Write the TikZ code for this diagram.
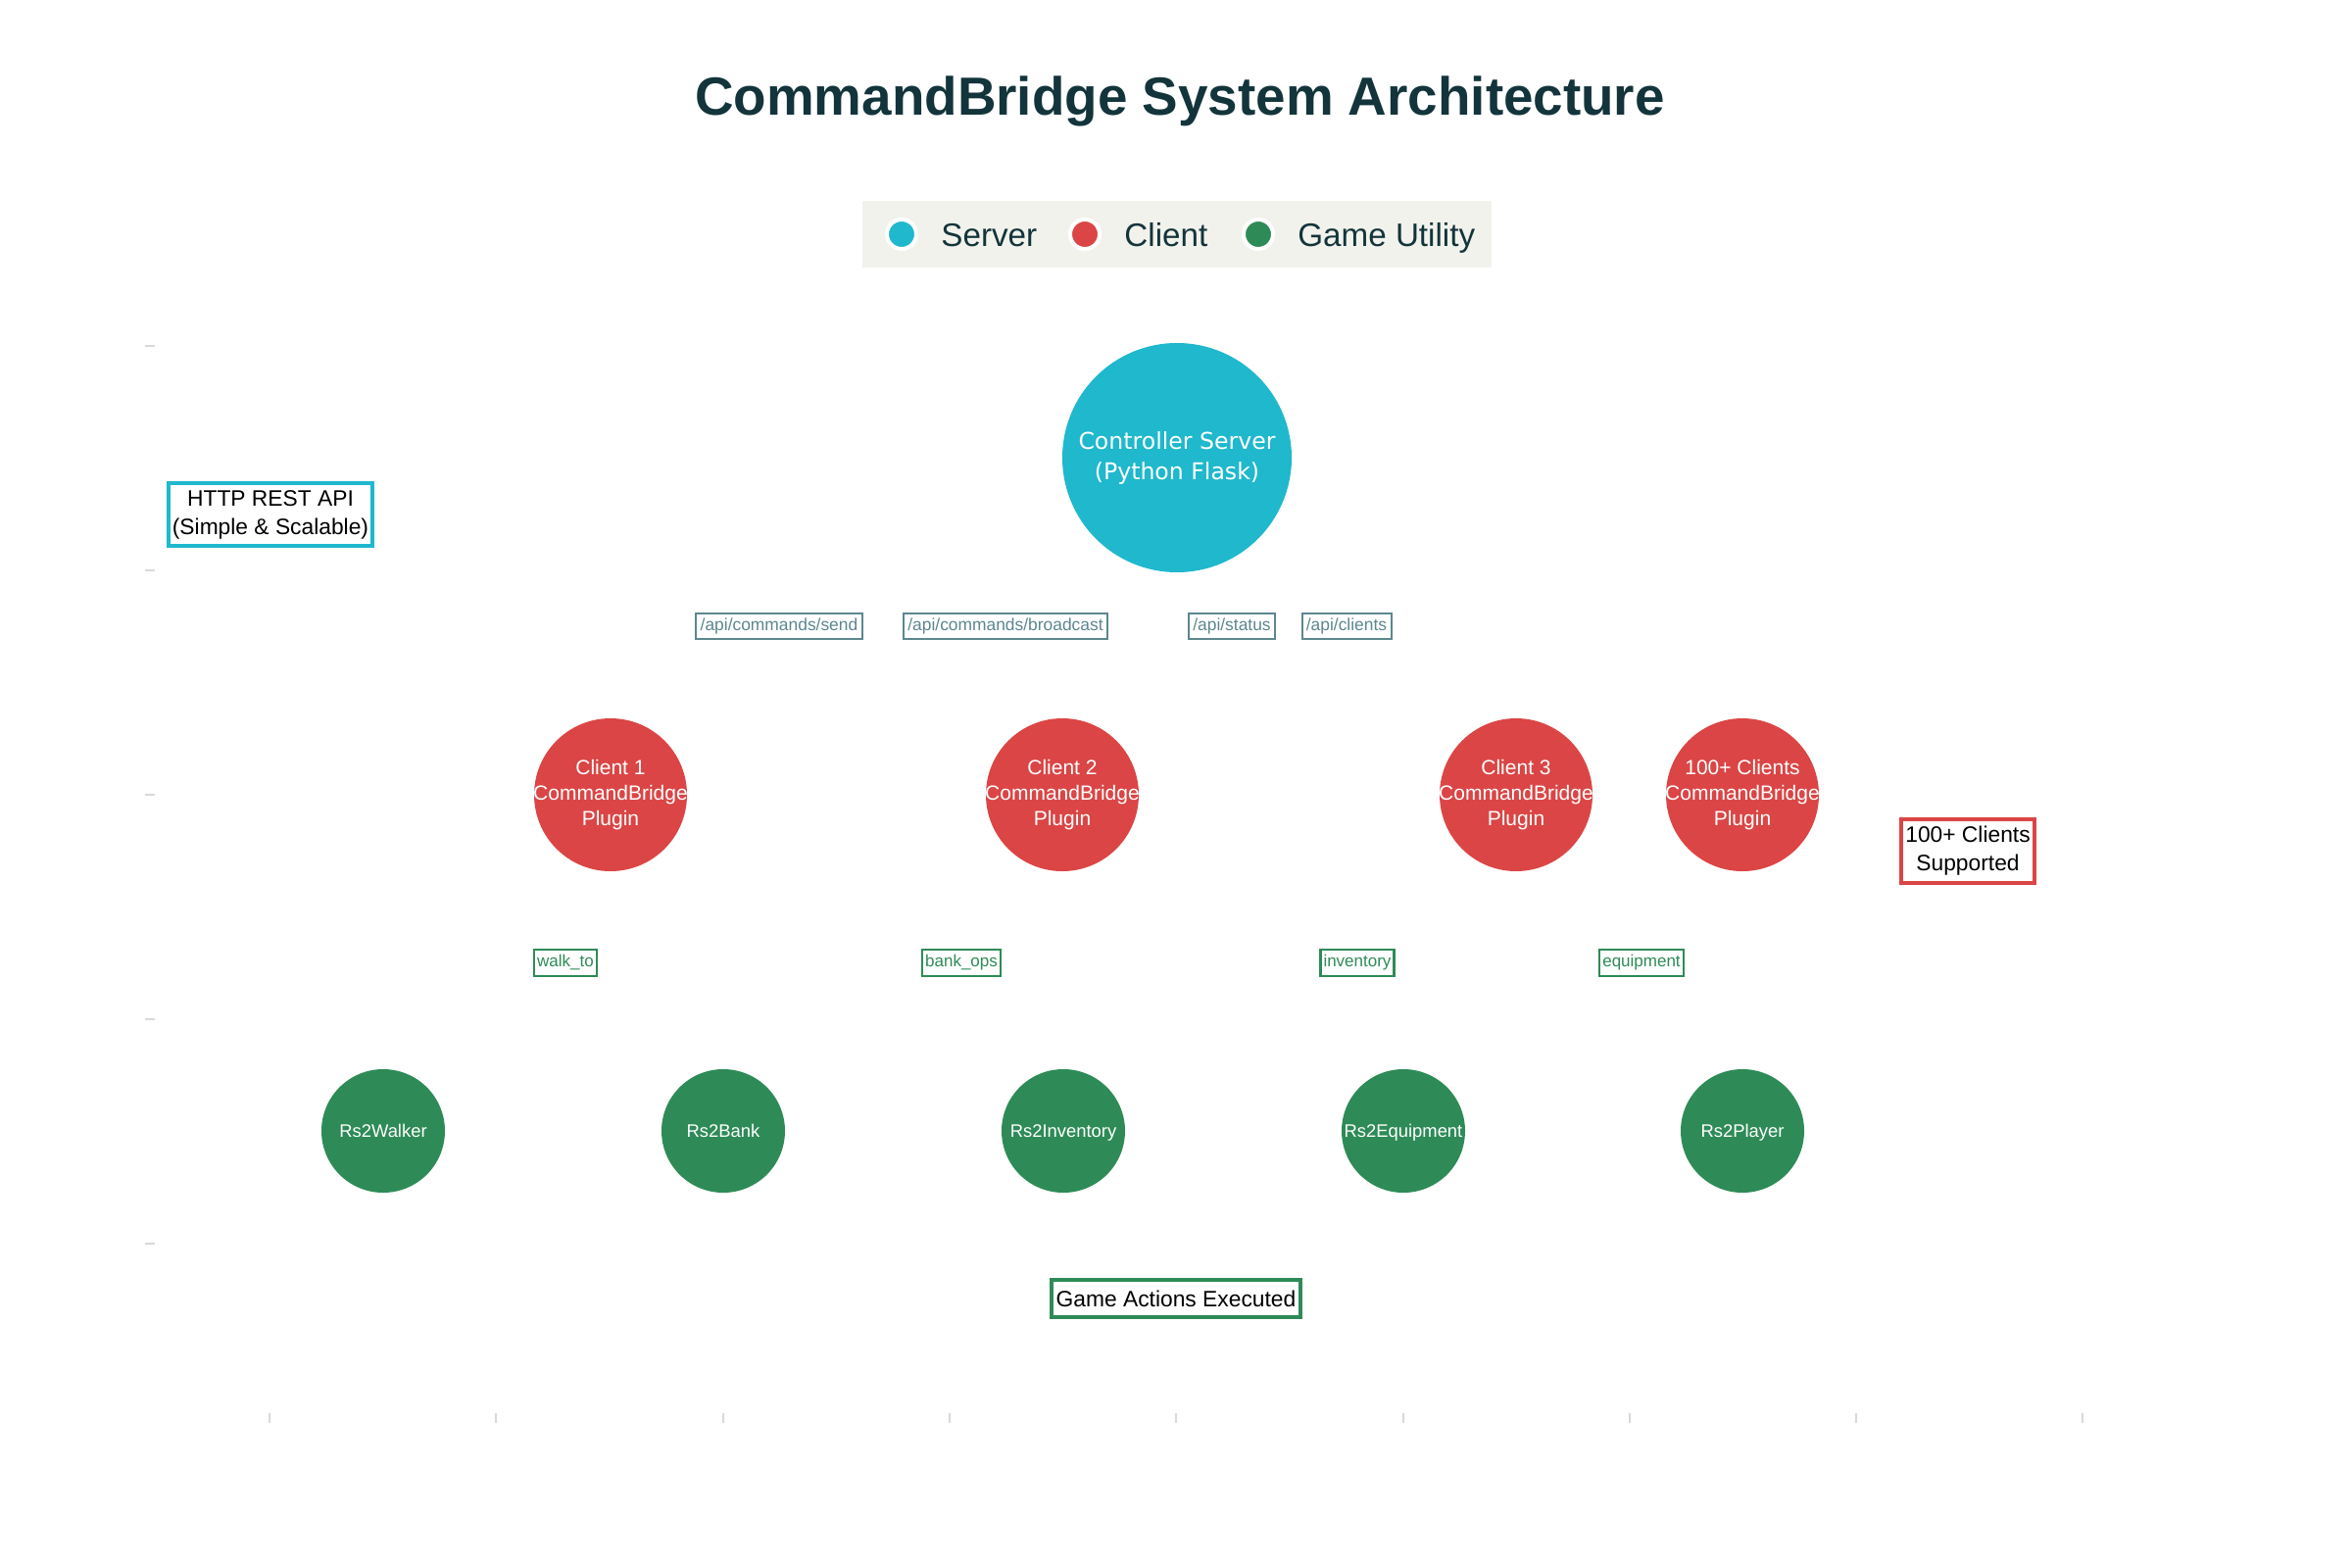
\documentclass[tikz,border=0pt]{standalone}
\usepackage{fontspec}
\setmainfont{Liberation Sans}
\newfontfamily\dejavu{DejaVu Sans}
\definecolor{servercol}{HTML}{1FB8CD}
\definecolor{clientcol}{HTML}{DB4545}
\definecolor{utilcol}{HTML}{2E8B57}
\definecolor{titlecol}{HTML}{13343B}
\definecolor{apicol}{HTML}{5D878F}
\definecolor{legendbg}{HTML}{F2F2EC}
\definecolor{tickcol}{HTML}{D9D9D9}

\begin{document}
\begin{tikzpicture}[x=0.5pt,y=-0.5pt,
  server/.style={circle,fill=servercol,text=white,minimum size=117pt,inner sep=0pt,align=center,font=\dejavu\fontsize{11.8}{15.5}\selectfont},
  client/.style={circle,fill=clientcol,text=white,minimum size=78pt,inner sep=-5pt,align=center,font=\fontsize{10.5}{13}\selectfont},
  utility/.style={circle,fill=utilcol,text=white,minimum size=63pt,inner sep=-3pt,text height=1.6ex,text depth=0.4ex,font=\fontsize{9.2}{11}\selectfont},
  apilabel/.style={draw=apicol,line width=1pt,fill=white,text=apicol,inner xsep=2.2pt,inner ysep=0pt,minimum height=13pt,font=\fontsize{8.7}{10}\selectfont},
  cmdlabel/.style={draw=utilcol,line width=1.3pt,fill=white,text=utilcol,inner xsep=1.6pt,inner ysep=0pt,minimum height=13.5pt,font=\fontsize{8.5}{10}\selectfont},
  notebox/.style={draw,line width=2pt,fill=white,text=black,align=center,inner sep=0pt,font=\fontsize{11.4}{14.5}\selectfont},
  legenddot/.style={circle,draw=white,line width=2pt,minimum size=15pt,inner sep=0pt},
  legendtext/.style={anchor=base west,inner sep=0pt,text=titlecol,font=\fontsize{16.6}{20}\selectfont},
  axistick/.style={tickcol,line width=1pt}]
    \useasboundingbox (0,0) rectangle (2400,1600);
    \node[anchor=base,text=titlecol,font=\bfseries\fontsize{27.4}{32}\selectfont] (title) at (1204,118) {CommandBridge System Architecture};
    \node[fill=legendbg,minimum width=321pt,minimum height=34pt,inner sep=0pt] (legend) at (1201,239) {};
    \node[legenddot,fill=servercol] (dotsrv) at (920,239) {};
    \node[legenddot,fill=clientcol] (dotcl) at (1107,239) {};
    \node[legenddot,fill=utilcol] (dotutil) at (1284,239) {};
    \node[legendtext] (txtsrv) at (960,251) {Server};
    \node[legendtext] (txtcl) at (1147,251) {Client};
    \node[legendtext] (txtutil) at (1324,251) {Game Utility};
    \draw[axistick] (148,353) -- (158,353) (148,582) -- (158,582) (148,811) -- (158,811)
      (148,1040) -- (158,1040) (148,1269) -- (158,1269);
    \draw[axistick] (275,1442) -- (275,1452) (506,1442) -- (506,1452) (738,1442) -- (738,1452)
      (969,1442) -- (969,1452) (1200,1442) -- (1200,1452) (1432,1442) -- (1432,1452)
      (1663,1442) -- (1663,1452) (1894,1442) -- (1894,1452) (2125,1442) -- (2125,1452);
    \node[server] (srv) at (1201,467) {Controller Server\\(Python Flask)};
    \node[client] (cl1) at (623,811) {Client 1\\CommandBridge\\Plugin};
    \node[client] (cl2) at (1084,811) {Client 2\\CommandBridge\\Plugin};
    \node[client] (cl3) at (1547,811) {Client 3\\CommandBridge\\Plugin};
    \node[client] (cl4) at (1778,811) {100+ Clients\\CommandBridge\\Plugin};
    \node[utility] (walker) at (391,1154) {Rs2Walker};
    \node[utility] (bank) at (738,1154) {Rs2Bank};
    \node[utility] (inv) at (1085,1154) {Rs2Inventory};
    \node[utility] (equip) at (1432,1154) {Rs2Equipment};
    \node[utility] (player) at (1778,1154) {Rs2Player};
    \node[apilabel] (send) at (795,639) {/api/commands/send};
    \node[apilabel] (bcast) at (1026,639) {/api/commands/broadcast};
    \node[apilabel] (status) at (1257,639) {/api/status};
    \node[apilabel] (clients) at (1374,639) {/api/clients};
    \node[cmdlabel] (walkto) at (577,982.5) {walk\_to};
    \node[cmdlabel] (bankops) at (981,982.5) {bank\_ops};
    \node[cmdlabel] (invcmd) at (1385,982.5) {inventory};
    \node[cmdlabel] (equipcmd) at (1675,982.5) {equipment};
    \node[notebox,draw=servercol,minimum width=104pt,minimum height=32pt] (rest) at (276,525) {HTTP REST API\\(Simple \& Scalable)};
    \node[notebox,draw=clientcol,minimum width=68pt,minimum height=32.5pt] (many) at (2008,868.5) {100+ Clients\\Supported};
    \node[notebox,draw=utilcol,minimum width=127pt,minimum height=19pt] (actions) at (1200,1325) {Game Actions Executed};
  \end{tikzpicture}
\end{document}
